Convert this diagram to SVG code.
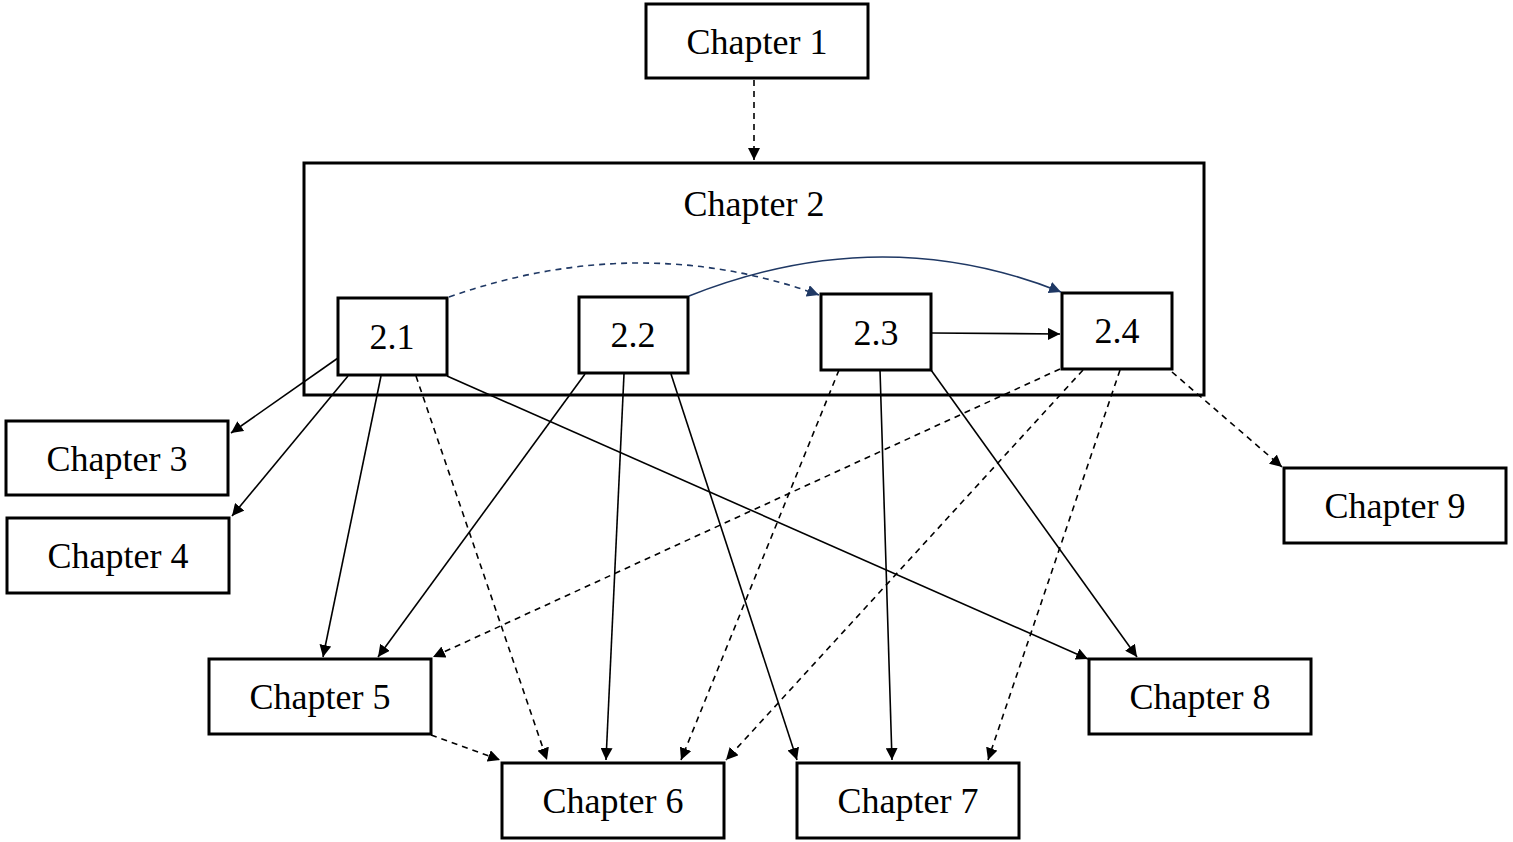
<svg xmlns="http://www.w3.org/2000/svg" width="1513" height="842" viewBox="0 0 1513 842">
<style>
.b{fill:#fff;stroke:#000;stroke-width:3}
.t{font-family:"Liberation Serif",serif;font-size:36px;text-anchor:middle;dominant-baseline:central;fill:#000}
.e{fill:none;stroke:#000;stroke-width:1.6}
.d{stroke-dasharray:6,5}
.n{stroke:#1f3864}
</style>
<defs>
<marker id="a" viewBox="0 0 10 10" refX="10" refY="5" markerWidth="12" markerHeight="12" markerUnits="userSpaceOnUse" orient="auto"><path d="M0,0L10,5L0,10z" fill="#000"/></marker>
<marker id="an" viewBox="0 0 10 10" refX="10" refY="5" markerWidth="12" markerHeight="12" markerUnits="userSpaceOnUse" orient="auto"><path d="M0,0L10,5L0,10z" fill="#1f3864"/></marker>
</defs>
<rect width="1513" height="842" fill="#fff"/>
<g id="ch2"><rect class="b" x="304" y="163" width="900" height="232" fill="none"/><text class="t" x="754" y="204">Chapter 2</text></g>
<g id="ch1"><rect class="b" x="646" y="4" width="222" height="74"/><text class="t" x="757" y="42">Chapter 1</text></g>
<g id="s21"><rect class="b" x="338" y="298" width="109" height="77"/><text class="t" x="392" y="337">2.1</text></g>
<g id="s22"><rect class="b" x="579" y="297" width="109" height="76"/><text class="t" x="633" y="335">2.2</text></g>
<g id="s23"><rect class="b" x="821" y="294" width="110" height="76"/><text class="t" x="876" y="333">2.3</text></g>
<g id="s24"><rect class="b" x="1062" y="293" width="110" height="76"/><text class="t" x="1117" y="331">2.4</text></g>
<g id="ch3"><rect class="b" x="6" y="421" width="222" height="74"/><text class="t" x="117" y="459">Chapter 3</text></g>
<g id="ch4"><rect class="b" x="7" y="518" width="222" height="75"/><text class="t" x="118" y="556">Chapter 4</text></g>
<g id="ch5"><rect class="b" x="209" y="659" width="222" height="75"/><text class="t" x="320" y="697">Chapter 5</text></g>
<g id="ch6"><rect class="b" x="502" y="763" width="222" height="75"/><text class="t" x="613" y="801">Chapter 6</text></g>
<g id="ch7"><rect class="b" x="797" y="763" width="222" height="75"/><text class="t" x="908" y="801">Chapter 7</text></g>
<g id="ch8"><rect class="b" x="1089" y="659" width="222" height="75"/><text class="t" x="1200" y="697">Chapter 8</text></g>
<g id="ch9"><rect class="b" x="1284" y="468" width="222" height="75"/><text class="t" x="1395" y="506">Chapter 9</text></g>
<g id="edges">
<path class="e d" d="M754,80L754,160" marker-end="url(#a)"/>
<path class="e d n" d="M449,297Q640,230 819,295" marker-end="url(#an)"/>
<path class="e n" d="M689,296Q880,220 1061,292" marker-end="url(#an)"/>
<path class="e" d="M931,333L1060,334" marker-end="url(#a)"/>
<path class="e" d="M338,358L231,433" marker-end="url(#a)"/>
<path class="e" d="M348,376L232,516" marker-end="url(#a)"/>
<path class="e" d="M381,376L323,657" marker-end="url(#a)"/>
<path class="e d" d="M416,376L547,760" marker-end="url(#a)"/>
<path class="e" d="M447,376L1088,659" marker-end="url(#a)"/>
<path class="e" d="M585,374L378,657" marker-end="url(#a)"/>
<path class="e" d="M624,374L606,760" marker-end="url(#a)"/>
<path class="e" d="M671,374L797,760" marker-end="url(#a)"/>
<path class="e d" d="M839,370L681,760" marker-end="url(#a)"/>
<path class="e" d="M880,370L892,760" marker-end="url(#a)"/>
<path class="e" d="M931,370L1137,657" marker-end="url(#a)"/>
<path class="e d" d="M1060,369L433,657" marker-end="url(#a)"/>
<path class="e d" d="M1083,370L726,760" marker-end="url(#a)"/>
<path class="e d" d="M1120,370L988,760" marker-end="url(#a)"/>
<path class="e d" d="M1172,372L1282,467" marker-end="url(#a)"/>
<path class="e d" d="M431,735L500,760" marker-end="url(#a)"/>
</g>
</svg>
